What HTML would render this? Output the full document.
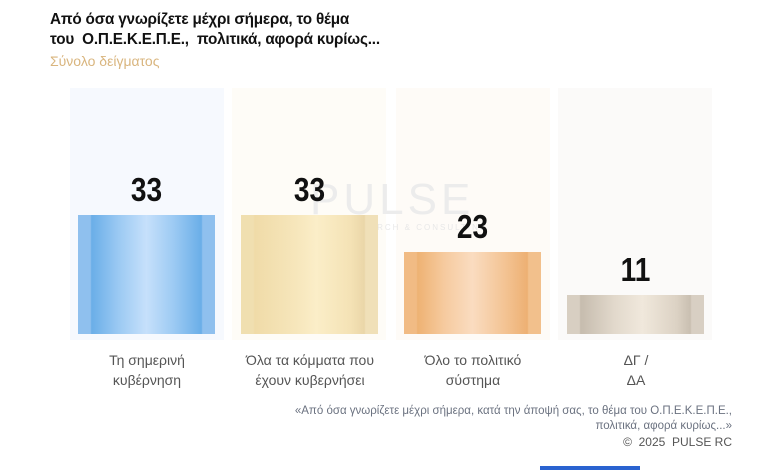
<!DOCTYPE html>
<html><head><meta charset="utf-8"><style>
body{margin:0;width:780px;height:470px;background:#fff;position:relative;overflow:hidden;font-family:"Liberation Sans","DejaVu Sans",sans-serif}
.a{position:absolute}
.t{left:50px;top:10px;font-size:16px;font-weight:bold;line-height:20px;color:#111;letter-spacing:-0.2px;transform:scaleX(0.955);transform-origin:left}
.s{left:50px;top:53px;font-size:14px;color:#d9b57e}
.col{top:88px;height:252px;width:154px}
.bar{bottom:136px;width:137px}
.num{font-size:33px;font-weight:bold;color:#111;width:137px;text-align:center;transform:scaleX(0.85)}
.lab{width:160px;text-align:center;font-size:14px;color:#555;line-height:20px;top:350px}
</style></head><body>
<div class="a t">Από όσα γνωρίζετε μέχρι σήμερα, το θέμα<br>του &nbsp;Ο.Π.Ε.Κ.Ε.Π.Ε., &nbsp;πολιτικά, αφορά κυρίως...</div>
<div class="a s">Σύνολο δείγματος</div>
<div class="a col" style="left:70px;background:#f6f9fe"></div>
<div class="a col" style="left:232px;background:#fefcf7"></div>
<div class="a col" style="left:396px;background:#fefbf7"></div>
<div class="a col" style="left:558px;background:#fbfaf9"></div>
<div class="a" style="left:310px;top:175px;font-size:44px;color:#ececec;letter-spacing:4px">PULSE</div>
<div class="a" style="left:340px;top:223px;font-size:8px;color:#e8e8e8;letter-spacing:2px">RESEARCH &amp; CONSULTING</div>
<div class="a bar" style="left:78px;top:215px;height:119px;background:linear-gradient(90deg,#8fc0ee 0,#8fc0ee 9%,#6aaee8 10%,#9ccaf3 30%,#c6e0fb 50%,#9ccaf3 70%,#6aaee8 90%,#8fc0ee 91%)"></div>
<div class="a bar" style="left:241px;top:215px;height:119px;background:linear-gradient(90deg,#f0dfb0 0,#f0dfb0 9%,#f0dba8 10%,#f6e6bb 40%,#fbeec8 55%,#f4e2b5 80%,#ead6a8 90%,#f0e0b8 91%)"></div>
<div class="a bar" style="left:404px;top:252px;height:82px;background:linear-gradient(90deg,#f1bb84 0,#f1bb84 9%,#eeb273 10%,#f6cba0 30%,#fadcc0 50%,#f3c291 75%,#edb073 90%,#f2c08c 91%)"></div>
<div class="a bar" style="left:567px;top:295px;height:39px;background:linear-gradient(90deg,#d8cfc2 0,#d8cfc2 9%,#c6bcae 10%,#e2d9cc 35%,#f0e8dc 55%,#dcd2c4 80%,#c9bfb1 90%,#d8cfc3 91%)"></div>
<div class="a num" style="left:78px;top:171px">33</div>
<div class="a num" style="left:241px;top:171px">33</div>
<div class="a num" style="left:404px;top:208px">23</div>
<div class="a num" style="left:567px;top:251px">11</div>
<div class="a lab" style="left:67px">Τη σημερινή<br>κυβέρνηση</div>
<div class="a lab" style="left:230px">Όλα τα κόμματα που<br>έχουν κυβερνήσει</div>
<div class="a lab" style="left:393px">Όλο το πολιτικό<br>σύστημα</div>
<div class="a lab" style="left:556px">ΔΓ /<br>ΔΑ</div>
<div class="a" style="right:48px;top:404px;text-align:right;font-size:11.5px;color:#6b7280;line-height:15px">«Από όσα γνωρίζετε μέχρι σήμερα, κατά την άποψή σας, το θέμα του Ο.Π.Ε.Κ.Ε.Π.Ε.,<br>πολιτικά, αφορά κυρίως...»</div>
<div class="a" style="right:48px;top:435px;font-size:12px;color:#555">©&nbsp; 2025&nbsp; PULSE RC</div>
<div class="a" style="left:540px;top:466px;width:100px;height:4px;background:#2a63d0"></div>
</body></html>
